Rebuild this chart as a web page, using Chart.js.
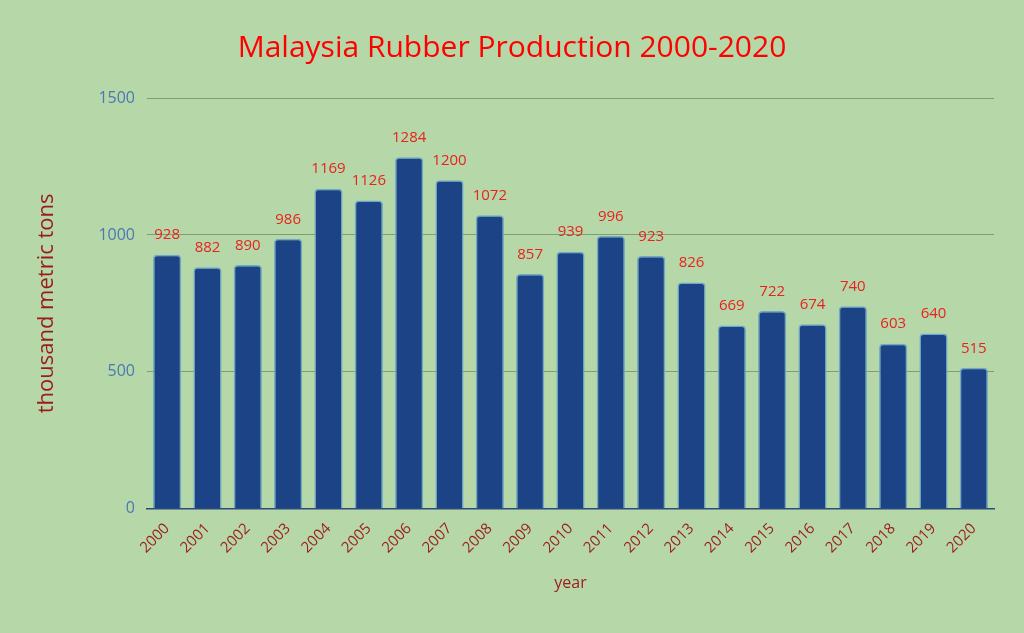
<!DOCTYPE html>
<html>
<head>
<meta charset="utf-8">
<script src="https://cdn.jsdelivr.net/npm/chart.js@4"></script>
<style>
  html, body { margin: 0; padding: 0; background: #b6d7a8; }
  #wrap { width: 1024px; height: 633px; }
</style>
</head>
<body>
<div id="wrap"><canvas id="chart"></canvas></div>
<script>
const years = ['2000','2001','2002','2003','2004','2005','2006','2007','2008','2009','2010',
  '2011','2012','2013','2014','2015','2016','2017','2018','2019','2020'];
const production = [928, 882, 890, 986, 1169, 1126, 1284, 1200, 1072, 857, 939,
  996, 923, 826, 669, 722, 674, 740, 603, 640, 515];
const yTicks = [0, 500, 1000, 1500];

// draws the value above each bar
const valueLabels = {
  id: 'valueLabels',
  afterDatasetsDraw(chart) {
    const ctx = chart.ctx;
    const meta = chart.getDatasetMeta(0);
    ctx.save();
    ctx.fillStyle = '#e8231f';
    ctx.font = '15px "Open Sans", sans-serif';
    ctx.textAlign = 'center';
    ctx.textBaseline = 'bottom';
    meta.data.forEach((bar, i) => {
      ctx.fillText(production[i], bar.x, bar.y - 12);
    });
    ctx.restore();
  }
};

new Chart(document.getElementById('chart'), {
  type: 'bar',
  data: {
    labels: years,
    datasets: [{
      data: production,
      backgroundColor: '#1b4386',
      borderColor: '#6fa9c9',
      borderWidth: 1.5,
      borderRadius: { topLeft: 4, topRight: 4 },
      borderSkipped: 'bottom',
      categoryPercentage: 1,
      barPercentage: 0.7
    }]
  },
  options: {
    responsive: true,
    maintainAspectRatio: false,
    animation: false,
    layout: { padding: { left: 30, right: 30, top: 10, bottom: 36 } },
    plugins: {
      legend: { display: false },
      tooltip: { enabled: false },
      title: {
        display: true,
        text: 'Malaysia Rubber Production 2000-2020',
        color: '#ff0000',
        font: { size: 30, family: '"Open Sans", sans-serif', weight: 'normal' },
        padding: { top: 20, bottom: 32 }
      }
    },
    scales: {
      y: {
        min: 0, max: 1500,
        afterBuildTicks(axis) { axis.ticks = yTicks.map(v => ({ value: v })); },
        grid: { color: '#7f9c74', drawTicks: false, lineWidth: 1 },
        border: { display: false },
        ticks: { color: '#4a78b5', font: { size: 16, family: '"Open Sans", sans-serif' }, padding: 12,
          callback: v => String(v) },
        title: {
          display: true, text: 'thousand metric tons', color: '#9b1c1c',
          font: { size: 22, family: '"Open Sans", sans-serif' }, padding: { bottom: 26 }
        }
      },
      x: {
        grid: { display: false },
        border: { color: '#2c4a7a', width: 1.5 },
        ticks: { color: '#9b1c1c', maxRotation: 45, minRotation: 45, font: { size: 15, family: '"Open Sans", sans-serif' } },
        title: {
          display: true, text: 'year', color: '#9b1c1c',
          font: { size: 16, family: '"Open Sans", sans-serif' }, padding: { top: 14 }
        }
      }
    }
  },
  plugins: [valueLabels]
});
</script>
</body>
</html>
